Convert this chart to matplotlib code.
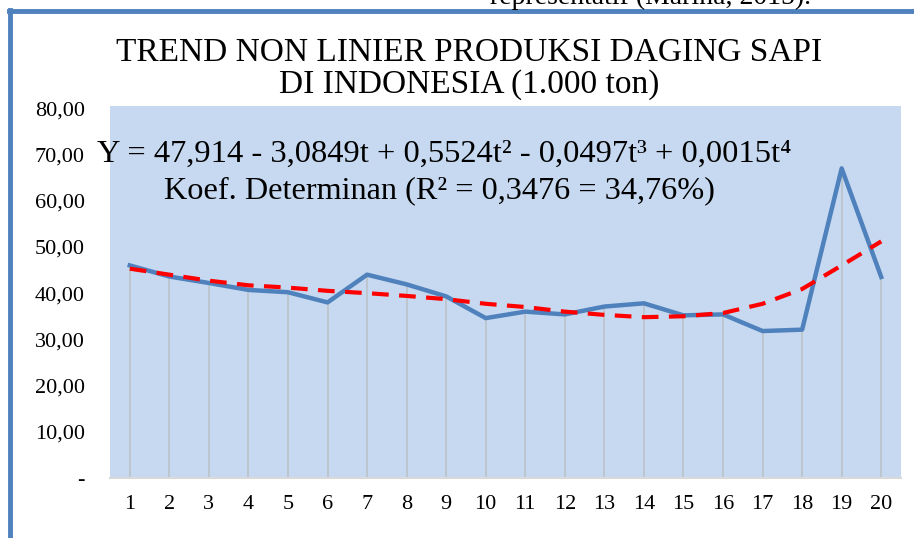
import matplotlib
matplotlib.use("Agg")
import matplotlib.pyplot as plt
from matplotlib.lines import Line2D

# data (1.000 ton)
periods = list(range(1, 21))
produksi = [46.0, 43.6, 42.2, 40.7, 40.2, 38.0, 44.0, 41.9, 39.3, 34.6,
            36.0, 35.4, 37.1, 37.8, 35.2, 35.4, 31.8, 32.1, 67.0, 43.5]
trend = [45.3, 44.0, 42.7, 41.7, 41.2, 40.5, 40.0, 39.4, 38.7, 37.7,
         37.0, 36.0, 35.3, 34.8, 35.0, 35.7, 37.7, 40.9, 46.0, 51.2]
y_ticks = [0, 10, 20, 30, 40, 50, 60, 70, 80]
y_labels = ["-", "10,00", "20,00", "30,00", "40,00", "50,00", "60,00", "70,00", "80,00"]

title = "TREND NON LINIER PRODUKSI DAGING SAPI\nDI INDONESIA (1.000 ton)"
eq_line = "Y = 47,914 - 3,0849t + 0,5524t\u00b2 - 0,0497t\u00b3 + 0,0015t\u2074"
r2_line = "Koef. Determinan (R\u00b2 = 0,3476 = 34,76%)"

serif = ["Liberation Serif", "DejaVu Serif"]
plt.rcParams['font.family'] = serif

fig = plt.figure(figsize=(9.14, 5.38), dpi=100)
ax = fig.add_axes([110 / 914, 60 / 538, 791 / 914, 372 / 538])
ax.set_facecolor("#C6D9F0")

# drop lines from the axis up to each point
ax.vlines(periods, 0, produksi, color="#BDC5CF", lw=1.4, zorder=1)
ax.plot(periods, produksi, color="#4F81BD", lw=3.2, zorder=3)
ax.plot(periods, trend, color="#FF0000", lw=3.0, ls=(0, (4, 2.5)), zorder=4)

ax.set_xlim(0.5, 20.5)
ax.set_ylim(0, 80.5)
ax.set_xticks(periods)
ax.set_xticklabels([str(p) for p in periods])
ax.set_yticks(y_ticks)
ax.set_yticklabels(y_labels)
ax.tick_params(axis="both", length=0, labelsize=16)
ax.tick_params(axis="y", pad=18)
ax.tick_params(axis="x", pad=12)
for s in ["top", "right", "left"]:
    ax.spines[s].set_visible(False)
ax.spines["bottom"].set_color("#D9D9D9")
ax.spines["bottom"].set_linewidth(1.5)

fig.text(469 / 914, 1 - 69 / 538, title, ha="center", va="center",
         fontsize=24, linespacing=1.05)
fig.text(444 / 914, 1 - 154 / 538, eq_line, ha="center", va="center", fontsize=23.4)
fig.text(439 / 914, 1 - 191 / 538, r2_line, ha="center", va="center", fontsize=23.2)

# page text cut off above the chart frame
fig.text(490 / 914, 1 - 4 / 538, "representatif (Marina, 2015).", ha="left",
         va="baseline", fontsize=20)

# blue frame of the embedded chart
fig.add_artist(Line2D([10 / 914, 10 / 914], [0, 1 - 10 / 538], transform=fig.transFigure,
                      color="#4F81BD", lw=3.5))
fig.add_artist(Line2D([9 / 914, 1], [1 - 11 / 538, 1 - 11 / 538], transform=fig.transFigure,
                      color="#4F81BD", lw=3.5))

fig.savefig("out.png", dpi=100)
